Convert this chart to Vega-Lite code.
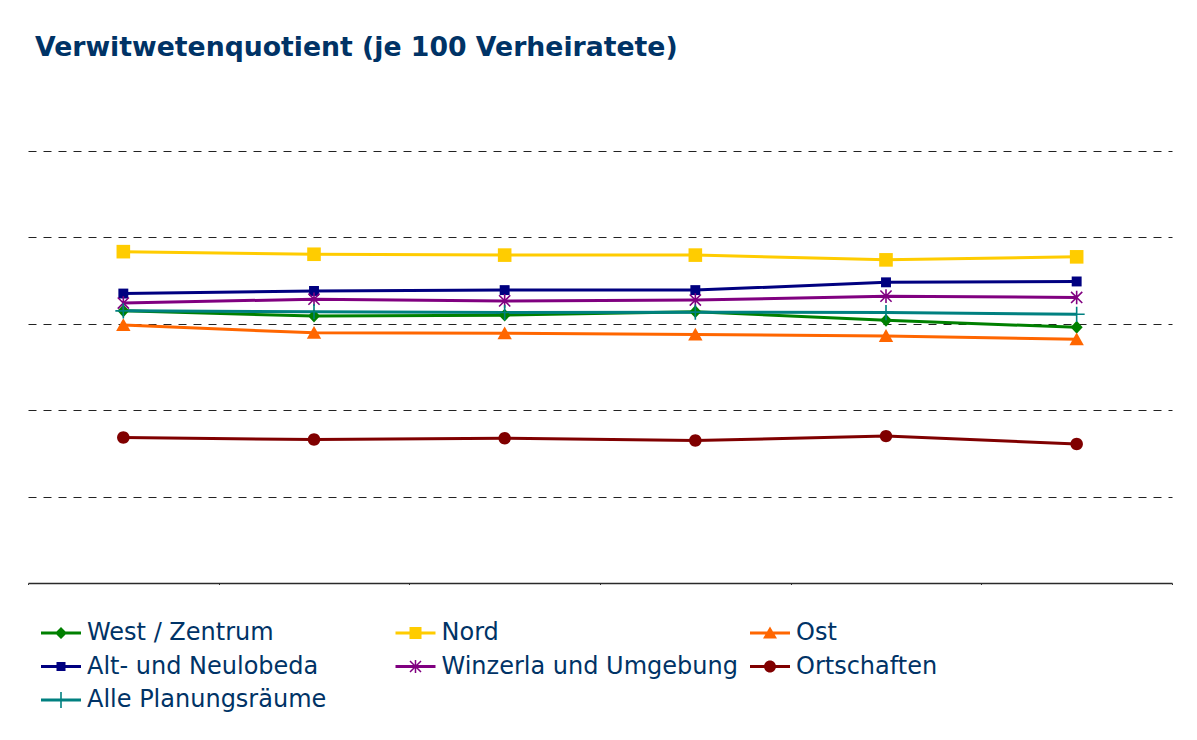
{
  "$schema": "https://vega.github.io/schema/vega-lite/v6.json",
  "width": 1144,
  "height": 432,
  "autosize": {"type": "none"},
  "padding": {"left": 28, "top": 151, "right": 25, "bottom": 157},
  "background": "white",
  "title": {
    "text": "Verwitwetenquotient (je 100 Verheiratete)",
    "anchor": "start",
    "frame": "group",
    "font": "DejaVu Sans",
    "fontSize": 26.7,
    "fontWeight": "bold",
    "color": "#003366",
    "offset": 89,
    "dx": 7
  },
  "data": {
    "values": [
      {"jahr": "2009", "raum": "West / Zentrum", "wert": 31.5},
      {"jahr": "2010", "raum": "West / Zentrum", "wert": 30.9},
      {"jahr": "2011", "raum": "West / Zentrum", "wert": 31.0},
      {"jahr": "2012", "raum": "West / Zentrum", "wert": 31.4},
      {"jahr": "2013", "raum": "West / Zentrum", "wert": 30.4},
      {"jahr": "2014", "raum": "West / Zentrum", "wert": 29.6},
      {"jahr": "2009", "raum": "Nord", "wert": 38.35},
      {"jahr": "2010", "raum": "Nord", "wert": 38.05},
      {"jahr": "2011", "raum": "Nord", "wert": 37.95},
      {"jahr": "2012", "raum": "Nord", "wert": 37.95},
      {"jahr": "2013", "raum": "Nord", "wert": 37.4},
      {"jahr": "2014", "raum": "Nord", "wert": 37.75},
      {"jahr": "2009", "raum": "Ost", "wert": 29.85},
      {"jahr": "2010", "raum": "Ost", "wert": 28.95},
      {"jahr": "2011", "raum": "Ost", "wert": 28.9},
      {"jahr": "2012", "raum": "Ost", "wert": 28.75},
      {"jahr": "2013", "raum": "Ost", "wert": 28.6},
      {"jahr": "2014", "raum": "Ost", "wert": 28.2},
      {"jahr": "2009", "raum": "Alt- und Neulobeda", "wert": 33.5},
      {"jahr": "2010", "raum": "Alt- und Neulobeda", "wert": 33.8},
      {"jahr": "2011", "raum": "Alt- und Neulobeda", "wert": 33.9},
      {"jahr": "2012", "raum": "Alt- und Neulobeda", "wert": 33.9},
      {"jahr": "2013", "raum": "Alt- und Neulobeda", "wert": 34.8},
      {"jahr": "2014", "raum": "Alt- und Neulobeda", "wert": 34.9},
      {"jahr": "2009", "raum": "Winzerla und Umgebung", "wert": 32.4},
      {"jahr": "2010", "raum": "Winzerla und Umgebung", "wert": 32.85},
      {"jahr": "2011", "raum": "Winzerla und Umgebung", "wert": 32.65},
      {"jahr": "2012", "raum": "Winzerla und Umgebung", "wert": 32.75},
      {"jahr": "2013", "raum": "Winzerla und Umgebung", "wert": 33.2},
      {"jahr": "2014", "raum": "Winzerla und Umgebung", "wert": 33.05},
      {"jahr": "2009", "raum": "Ortschaften", "wert": 16.85},
      {"jahr": "2010", "raum": "Ortschaften", "wert": 16.6},
      {"jahr": "2011", "raum": "Ortschaften", "wert": 16.75},
      {"jahr": "2012", "raum": "Ortschaften", "wert": 16.5},
      {"jahr": "2013", "raum": "Ortschaften", "wert": 17.0},
      {"jahr": "2014", "raum": "Ortschaften", "wert": 16.1},
      {"jahr": "2009", "raum": "Alle Planungsräume", "wert": 31.5},
      {"jahr": "2010", "raum": "Alle Planungsräume", "wert": 31.4},
      {"jahr": "2011", "raum": "Alle Planungsräume", "wert": 31.3},
      {"jahr": "2012", "raum": "Alle Planungsräume", "wert": 31.35},
      {"jahr": "2013", "raum": "Alle Planungsräume", "wert": 31.3},
      {"jahr": "2014", "raum": "Alle Planungsräume", "wert": 31.1}
    ]
  },
  "encoding": {
    "x": {
      "field": "jahr",
      "type": "ordinal",
      "scale": {"type": "band", "paddingInner": 0, "paddingOuter": 0},
      "axis": {
        "title": null,
        "labels": false,
        "ticks": true,
        "tickBand": "extent",
        "tickSize": 1.5,
        "tickWidth": 1,
        "tickColor": "#333333",
        "domainColor": "#2a2a2a",
        "domainWidth": 1.4,
        "grid": false
      }
    },
    "y": {
      "field": "wert",
      "type": "quantitative",
      "scale": {"domain": [0, 50], "nice": false},
      "axis": {
        "title": null,
        "labels": false,
        "ticks": false,
        "domain": false,
        "grid": true,
        "values": [10, 20, 30, 40, 50],
        "gridDash": [8, 7],
        "gridColor": "#222222",
        "gridWidth": 1
      }
    }
  },
  "layer": [
    {
      "mark": {"type": "line", "strokeWidth": 3},
      "encoding": {
        "color": {
          "field": "raum",
          "type": "nominal",
          "scale": {
            "domain": ["West / Zentrum", "Nord", "Ost", "Alt- und Neulobeda", "Winzerla und Umgebung", "Ortschaften", "Alle Planungsräume"],
            "range": ["#008000", "#FFCC00", "#FF6600", "#000080", "#800080", "#800000", "#008080"]
          },
          "legend": null
        }
      }
    },
    {
      "mark": {"type": "point", "filled": true, "size": 256, "opacity": 1, "strokeWidth": 0},
      "encoding": {
        "color": {
          "field": "raum",
          "type": "nominal",
          "scale": {
            "domain": ["West / Zentrum", "Nord", "Ost", "Alt- und Neulobeda", "Winzerla und Umgebung", "Ortschaften", "Alle Planungsräume"],
            "range": ["#008000", "#FFCC00", "#FF6600", "#000080", "#800080", "#800000", "#008080"]
          },
          "legend": null
        },
        "shape": {
          "field": "raum",
          "type": "nominal",
          "scale": {
            "domain": ["West / Zentrum", "Nord", "Ost", "Alt- und Neulobeda", "Winzerla und Umgebung", "Ortschaften", "Alle Planungsräume"],
            "range": [
              "M0,-0.8L0.75,0L0,0.8L-0.75,0Z",
              "M-0.85,-0.85H0.85V0.85H-0.85Z",
              "M0,-0.85L0.9,0.75H-0.9Z",
              "M-0.62,-0.62H0.62V0.62H-0.62Z",
              "M-0.63,-0.77L0.77,0.63L0.63,0.77L-0.77,-0.63ZM-0.63,0.77L-0.77,0.63L0.63,-0.77L0.77,-0.63ZM-0.1,-0.85H0.1V0.85H-0.1Z",
              "M0.78,0A0.78,0.78,0,1,1,-0.78,0A0.78,0.78,0,1,1,0.78,0Z",
              "M-1,-0.1H1V0.1H-1ZM-0.1,-0.95H0.1V0.95H-0.1Z"
            ]
          },
          "legend": null
        }
      }
    },
    {
      "transform": [{"filter": "false"}],
      "mark": {"type": "point", "filled": true, "size": 400, "opacity": 1, "strokeWidth": 0},
      "encoding": {
        "color": {
          "field": "raum",
          "type": "nominal",
          "title": null,
          "scale": {
            "domain": ["West / Zentrum", "Nord", "Ost", "Alt- und Neulobeda", "Winzerla und Umgebung", "Ortschaften", "Alle Planungsräume"],
            "range": ["#008000", "#FFCC00", "#FF6600", "#000080", "#800080", "#800000", "#008080"]
          }
        },
        "shape": {
          "field": "raum",
          "type": "nominal",
          "title": null,
          "scale": {
            "domain": ["West / Zentrum", "Nord", "Ost", "Alt- und Neulobeda", "Winzerla und Umgebung", "Ortschaften", "Alle Planungsräume"],
            "range": [
              "M-1,-0.15H3V0.15H-1ZM1,-0.6L1.6,0L1,0.6L0.4,0Z",
              "M-1,-0.15H3V0.15H-1ZM0.4,-0.6H1.6V0.6H0.4Z",
              "M-1,-0.15H3V0.15H-1ZM1,-0.65L1.7,0.55H0.3Z",
              "M-1,-0.15H3V0.15H-1ZM0.55,-0.45H1.45V0.45H0.55Z",
              "M-1,-0.15H3V0.15H-1ZM0.503,-0.603L1.603,0.497L1.497,0.603L0.397,-0.497ZM0.503,0.603L0.397,0.497L1.497,-0.603L1.603,-0.497ZM0.925,-0.65H1.075V0.65H0.925Z",
              "M-1,-0.15H3V0.15H-1ZM1.6,0A0.6,0.6,0,1,1,0.4,0A0.6,0.6,0,1,1,1.6,0Z",
              "M-1,-0.15H3V0.15H-1ZM0.92,-0.8H1.08V0.8H0.92Z"
            ]
          }
        }
      }
    }
  ],
  "resolve": {"scale": {"color": "independent", "shape": "independent"}},
  "config": {
    "view": {"stroke": null},
    "legend": {
      "orient": "none",
      "direction": "horizontal",
      "legendX": 11,
      "legendY": 470,
      "columns": 3,
      "gridAlign": "all",
      "columnPadding": 9.5,
      "rowPadding": 9.5,
      "symbolSize": 400,
      "symbolStrokeWidth": 0,
      "labelFont": "DejaVu Sans",
      "labelFontSize": 24,
      "labelColor": "#003366",
      "labelOffset": 24,
      "labelLimit": 0,
      "padding": 0,
      "symbolLimit": 0
    }
  }
}
